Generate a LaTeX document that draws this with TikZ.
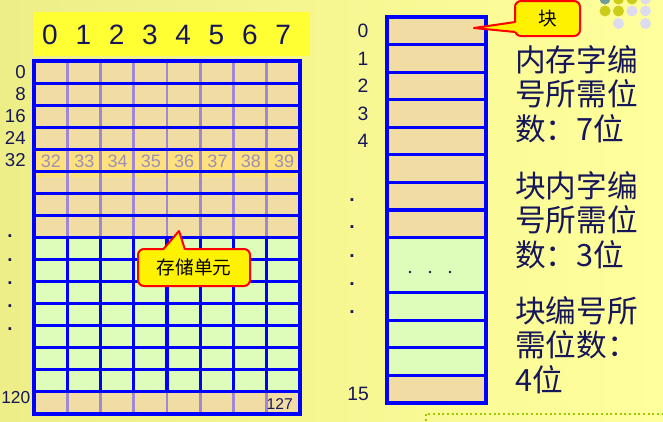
\documentclass[tikz,border=0pt]{standalone}
\usepackage{fontspec}
\setmainfont{Liberation Sans}
\newfontfamily\cjk{Noto Sans CJK SC}
\definecolor{bgleft}{HTML}{EEEE88}
\definecolor{bgright}{HTML}{FFFF9C}
\definecolor{headyellow}{HTML}{FFFF33}
\definecolor{celltan}{HTML}{F1DCA4}
\definecolor{cellmint}{HTML}{DEFCBA}
\definecolor{rowhi}{HTML}{FFE17E}
\definecolor{gridblue}{HTML}{0000FF}
\definecolor{lilac}{HTML}{A088D2}
\definecolor{greynum}{HTML}{9C90B4}
\definecolor{navy}{HTML}{16165A}
\definecolor{dotteal}{HTML}{6F9C98}
\definecolor{dotolive}{HTML}{CCCC1A}
\definecolor{dotlav}{HTML}{DCDCEE}
\definecolor{dotgreen}{HTML}{99CC00}
\tikzset{
  headnum/.style={font=\fontsize{21}{21}\selectfont, text=navy, inner sep=0.75pt},
  rowlab/.style={font=\fontsize{14}{14}\selectfont, text=navy, inner sep=0.75pt},
  blocklab/.style={font=\fontsize{14.5}{14.5}\selectfont, text=navy, inner sep=0.75pt},
  addrnum/.style={font=\fontsize{13.5}{13.5}\selectfont, text=greynum, inner sep=0.75pt},
  note/.style={fill=yellow, draw=red, line width=1.5pt, rounded corners=4.5pt, inner sep=0pt},
  sidetext/.style={font=\cjk\fontsize{23}{26}\selectfont, text=navy, align=left, inner sep=0pt, anchor=north west},
}
\begin{document}
\begin{tikzpicture}[x=0.75pt,y=0.75pt,yscale=-1,xscale=1]
%background
\shade[left color=bgleft, right color=bgright] (0,0) rectangle (663,421);
\useasboundingbox (0,0) rectangle (663,421);

%decoration dots, top right
\fill[dotteal] (605,-1) circle (5.5);
\foreach \x in {618.5,632} \fill[dotolive] (\x,-1) circle (5.5);
\fill[dotlav] (645.5,-1) circle (5.5);
\foreach \x in {605,618.5} \fill[dotolive] (\x,11) circle (5.5);
\foreach \x in {632,645.5} \fill[dotlav] (\x,11) circle (5.5);
\foreach \x in {618.5,645.5} \fill[dotlav] (\x,23.5) circle (5.5);

%Header with bit numbers
\fill[headyellow] (34,12) rectangle (310,56);
\foreach \c in {0,...,7}
  \node[headnum] (colnum\c) at (50+33.3*\c,35) {\c};

%Memory cells (8 x 16)
\foreach \r in {0,...,7,15}
  \fill[celltan] (34,61+22.06*\r) rectangle (300,61+22.06*\r+22.06);
\foreach \r in {8,...,14}
  \fill[cellmint] (34,61+22.06*\r) rectangle (300,61+22.06*\r+22.06);
\fill[rowhi] (35,150.5) rectangle (299,176.5);
\foreach \c in {1,...,7} {
  \draw[lilac, line width=2] (34+33.25*\c,61) -- (34+33.25*\c,238.7);
  \draw[lilac, line width=2] (34+33.25*\c,392.7) -- (34+33.25*\c,414);
  \draw[gridblue, line width=2.4] (34+33.25*\c,238.7) -- (34+33.25*\c,392.7);
}
\foreach \r in {1,...,15}
  \draw[gridblue, line width=2.2] (34,61+22.06*\r) -- (300,61+22.06*\r);
\draw[gridblue, line width=2.8] (34,61) rectangle (300,414);

%Row addresses
\foreach \a [count=\i from 0] in {0,8,16,24,32}
  \node[rowlab, anchor=east] (rowlab\i) at (27,72+22.06*\i) {\a};
\foreach \y [count=\i] in {240,264,287,310,333}
  \node[rowlab] (rowdot\i) at (10,\y-4) {\textbf{.}};
\node[rowlab, font=\fontsize{13}{13}\selectfont, inner sep=0pt, anchor=east] (rowlab15) at (30.5,398) {120};
\foreach \a [count=\i from 0] in {32,...,39}
  \node[addrnum] (addr\a) at (51+33.3*\i,161.5) {\a};
\node[font=\fontsize{11.7}{11.7}\selectfont, text=navy, inner sep=0.75pt, anchor=east] (addr127) at (294,404) {127};

%Callout: storage unit
\coordinate (celltip) at (179,231);
\node[note, minimum width=84pt, minimum height=27.75pt] (cellnote) at (194,267.5) {};
\fill[yellow] (162,252) -- (celltip) -- (186,252) -- cycle;
\draw[red, line width=1.5, line join=round] (163,249.6) -- (celltip) -- (185,249.6);
\node[font=\cjk\fontsize{14}{14}\selectfont, inner sep=0pt] (celltext) at (cellnote.center) {存储单元};

%Blocks (right column)
\foreach \r in {0,...,7,13}
  \fill[celltan] (387,17+27.57*\r) rectangle (486,17+27.57*\r+27.57);
\fill[cellmint] (387,237.6) rectangle (486,376.8);
\foreach \r in {1,...,8,10,11,12,13}
  \draw[gridblue, line width=2.4] (387,17+27.57*\r) -- (486,17+27.57*\r);
\draw[gridblue, line width=2.8] (387,17) rectangle (486,403);
\foreach \x in {410,430,450}
  \fill[navy] (\x,272) circle (1.3);
\foreach \k in {0,...,4}
  \node[blocklab] (blklab\k) at (363,31+27.57*\k) {\k};
\foreach \y [count=\i] in {205,232,261,289,317}
  \node[blocklab] (blkdot\i) at (352,\y-5) {\textbf{.}};
\node[blocklab] (blklab15) at (358,394) {15};

%Callout: block
\coordinate (blocktip) at (474,28);
\node[note, minimum width=48.75pt, minimum height=26.25pt] (blocknote) at (547.5,18.5) {};
\fill[yellow] (518,22) -- (blocktip) -- (518,32) -- cycle;
\draw[red, line width=1.5, line join=round] (515.3,22) -- (blocktip) -- (515.3,32);
\node[font=\cjk\fontsize{14}{14}\selectfont, inner sep=0pt] (blocktext) at (blocknote.center) {块};

%Side notes
\node[sidetext] (wordbits) at (515,45) {内存字编\\号所需位\\数：7位};
\node[sidetext] (offsetbits) at (515,171) {块内字编\\号所需位\\数：3位};
\node[sidetext] (blockbits) at (515,296) {块编号所\\需位数：\\4位};

%dotted frame at bottom right
\draw[dotgreen, dotted, line width=1.5] (426,421) -- (426,414) -- (663,414);

\end{tikzpicture}
\end{document}
